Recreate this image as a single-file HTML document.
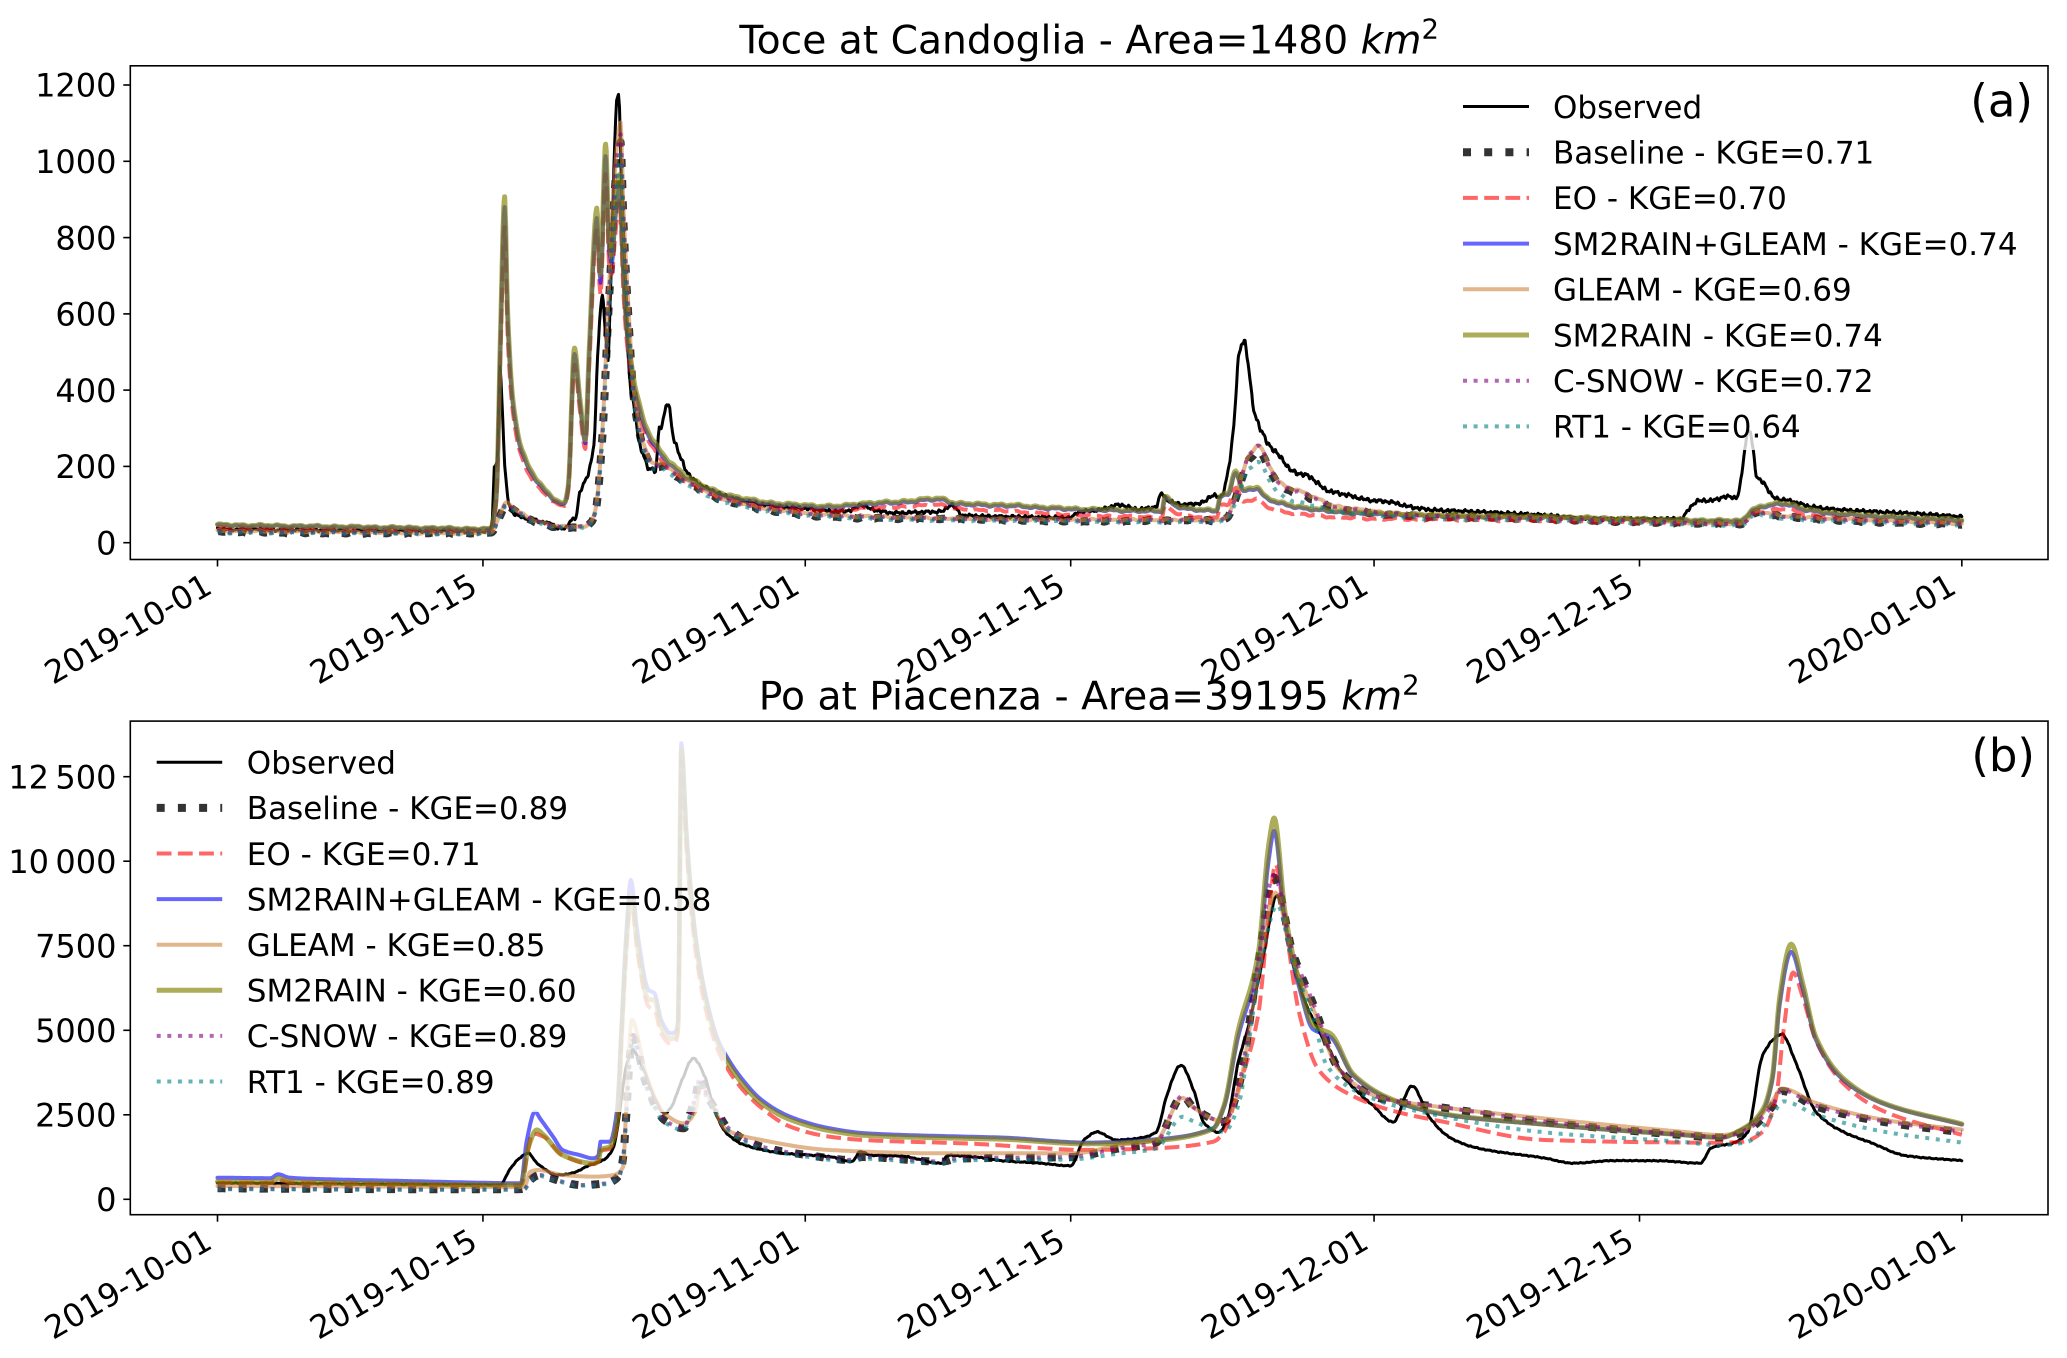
<!DOCTYPE html>
<html><head><meta charset="utf-8">
<style>
html,body{margin:0;padding:0;background:#fff;}
svg{display:block;}
text{font-family:"DejaVu Sans","Liberation Sans",sans-serif;fill:#000;}
.tk{font-size:32px;}
.lg{font-size:31px;}
.ti{font-size:39.2px;}
</style></head><body>
<svg id="s" width="2067" height="1358" viewBox="0 0 2067 1358" xmlns="http://www.w3.org/2000/svg">
<defs>
<clipPath id="ca"><rect x="130.3" y="65.8" width="1917.7" height="493.7"/></clipPath>
<clipPath id="cb"><rect x="130.3" y="721.1" width="1917.7" height="493.6"/></clipPath>
</defs>
<rect x="0" y="0" width="2067" height="1358" fill="#fff"/>
<g id="la" clip-path="url(#ca)"></g>
<g id="lb" clip-path="url(#cb)"></g>

<!-- Titles -->
<text class="ti" x="1089.2" y="53.3" text-anchor="middle">Toce at Candoglia - Area=1480 <tspan font-style="italic">km</tspan><tspan dy="-15" font-size="27.5">2</tspan></text>
<text class="ti" x="1089.2" y="709.7" text-anchor="middle">Po at Piacenza - Area=39195 <tspan font-style="italic">km</tspan><tspan dy="-15" font-size="27.5">2</tspan></text>

<!-- Legend A -->
<rect x="1444" y="75" width="588" height="375" fill="#fff" fill-opacity="0.8"/>
<g id="lega"></g>
<g class="lg">
<text x="1553" y="117.8">Observed</text>
<text x="1553" y="163.5">Baseline - KGE=0.71</text>
<text x="1553" y="209.2">EO - KGE=0.70</text>
<text x="1553" y="254.9">SM2RAIN+GLEAM - KGE=0.74</text>
<text x="1553" y="300.6">GLEAM - KGE=0.69</text>
<text x="1553" y="346.3">SM2RAIN - KGE=0.74</text>
<text x="1553" y="392.0">C-SNOW - KGE=0.72</text>
<text x="1553" y="437.7">RT1 - KGE=0.64</text>
</g>
<text x="2033" y="116.6" text-anchor="end" font-size="45">(a)</text>

<!-- Legend B -->
<rect x="140" y="731" width="586" height="381" fill="#fff" fill-opacity="0.8"/>
<g id="legb"></g>
<g class="lg">
<text x="246.8" y="773.6">Observed</text>
<text x="246.8" y="819.2">Baseline - KGE=0.89</text>
<text x="246.8" y="864.8">EO - KGE=0.71</text>
<text x="246.8" y="910.4">SM2RAIN+GLEAM - KGE=0.58</text>
<text x="246.8" y="956.0">GLEAM - KGE=0.85</text>
<text x="246.8" y="1001.6">SM2RAIN - KGE=0.60</text>
<text x="246.8" y="1047.2">C-SNOW - KGE=0.89</text>
<text x="246.8" y="1092.8">RT1 - KGE=0.89</text>
</g>
<text x="2035" y="770.8" text-anchor="end" font-size="45">(b)</text>

<!-- Axes frames -->
<rect x="130.3" y="65.8" width="1917.7" height="493.7" fill="none" stroke="#000" stroke-width="1.6"/>
<rect x="130.3" y="721.1" width="1917.7" height="493.6" fill="none" stroke="#000" stroke-width="1.6"/>

<!-- Y ticks -->
<g stroke="#000" stroke-width="1.6">
<line x1="123.3" x2="130.3" y1="542.7" y2="542.7"/>
<line x1="123.3" x2="130.3" y1="466.4" y2="466.4"/>
<line x1="123.3" x2="130.3" y1="390.1" y2="390.1"/>
<line x1="123.3" x2="130.3" y1="313.9" y2="313.9"/>
<line x1="123.3" x2="130.3" y1="237.6" y2="237.6"/>
<line x1="123.3" x2="130.3" y1="161.3" y2="161.3"/>
<line x1="123.3" x2="130.3" y1="85.0" y2="85.0"/>
<line x1="123.3" x2="130.3" y1="1199.3" y2="1199.3"/>
<line x1="123.3" x2="130.3" y1="1114.8" y2="1114.8"/>
<line x1="123.3" x2="130.3" y1="1030.3" y2="1030.3"/>
<line x1="123.3" x2="130.3" y1="945.7" y2="945.7"/>
<line x1="123.3" x2="130.3" y1="861.2" y2="861.2"/>
<line x1="123.3" x2="130.3" y1="776.7" y2="776.7"/>
</g>
<g class="tk" text-anchor="end">
<text x="116.5" y="554.4">0</text>
<text x="116.5" y="478.1">200</text>
<text x="116.5" y="401.8">400</text>
<text x="116.5" y="325.6">600</text>
<text x="116.5" y="249.3">800</text>
<text x="116.5" y="173.0">1000</text>
<text x="116.5" y="96.7">1200</text>
<text x="116.5" y="1211.0">0</text>
<text x="116.5" y="1126.5">2500</text>
<text x="116.5" y="1042.0">5000</text>
<text x="116.5" y="957.4">7500</text>
<text x="116.5" y="872.9">10&#8201;000</text>
<text x="116.5" y="788.4">12&#8201;500</text>
</g>

<!-- X ticks -->
<g id="xt" stroke="#000" stroke-width="1.6"></g>
<g class="tk" text-anchor="end">
<text transform="translate(214,592) rotate(-30)">2019-10-01</text>
<text transform="translate(479.4,592) rotate(-30)">2019-10-15</text>
<text transform="translate(801.8,592) rotate(-30)">2019-11-01</text>
<text transform="translate(1067.2,592) rotate(-30)">2019-11-15</text>
<text transform="translate(1370.6,592) rotate(-30)">2019-12-01</text>
<text transform="translate(1636,592) rotate(-30)">2019-12-15</text>
<text transform="translate(1958.3,592) rotate(-30)">2020-01-01</text>
<text transform="translate(214,1247.2) rotate(-30)">2019-10-01</text>
<text transform="translate(479.4,1247.2) rotate(-30)">2019-10-15</text>
<text transform="translate(801.8,1247.2) rotate(-30)">2019-11-01</text>
<text transform="translate(1067.2,1247.2) rotate(-30)">2019-11-15</text>
<text transform="translate(1370.6,1247.2) rotate(-30)">2019-12-01</text>
<text transform="translate(1636,1247.2) rotate(-30)">2019-12-15</text>
<text transform="translate(1958.3,1247.2) rotate(-30)">2020-01-01</text>
</g>
</svg>
<script>
(function(){
var NS='http://www.w3.org/2000/svg';
function X(d){return 217.5+18.96*d;}
function YA(v){return 542.7-v*0.3814;}
function YB(v){return 1199.3-v*0.03381;}
function mono(kp){
  var n=kp.length,xs=[],ys=[],dx=[],m=[],t=[],i;
  for(i=0;i<n;i++){xs.push(kp[i][0]);ys.push(kp[i][1]);}
  for(i=0;i<n-1;i++){dx.push(xs[i+1]-xs[i]);m.push((ys[i+1]-ys[i])/dx[i]);}
  t.push(m[0]);
  for(i=1;i<n-1;i++){
    if(m[i-1]*m[i]<=0)t.push(0);
    else{var w1=2*dx[i]+dx[i-1],w2=dx[i]+2*dx[i-1];t.push((w1+w2)/(w1/m[i-1]+w2/m[i]));}
  }
  t.push(m[n-2]);
  var f=function(x){
    if(x<=xs[0])return ys[0];
    if(x>=xs[n-1])return ys[n-1];
    var lo=0,hi=n-1;
    while(hi-lo>1){var mid=(lo+hi)>>1;if(xs[mid]<=x)lo=mid;else hi=mid;}
    var h=dx[lo],s=(x-xs[lo])/h,s2=s*s,s3=s2*s;
    return (2*s3-3*s2+1)*ys[lo]+(s3-2*s2+s)*h*t[lo]+(-2*s3+3*s2)*ys[lo+1]+(s3-s2)*h*t[lo+1];
  };
  f.knots=xs;
  return f;
}
function lin(kp){
  return function(x){
    if(x<=kp[0][0])return kp[0][1];
    for(var i=1;i<kp.length;i++){if(x<=kp[i][0]){var a=kp[i-1],b=kp[i];var q=(x-a[0])/(b[0]-a[0]);return a[1]+q*(b[1]-a[1]);}}
    return kp[kp.length-1][1];
  };
}
function nz(d,s){
  return 0.5*Math.sin(6.2832*d*1.0+s)+0.3*Math.sin(6.2832*d*2.3+2.1*s)+0.2*Math.sin(6.2832*d*0.43+3.7*s);
}
function nz2(d,s){
  return 0.45*Math.sin(6.2832*d*3.1+s)+0.35*Math.sin(6.2832*d*5.7+1.7*s)+0.2*Math.sin(6.2832*d*1.3+2.9*s);
}
function draw(g,fn,knots,Y,st,amp,seed,hf){
  var ds=[],d,i;
  for(d=0;d<=92.0001;d+=0.05)ds.push(Math.round(d*100)/100);
  if(knots)for(i=0;i<knots.length;i++)ds.push(knots[i]);
  ds.sort(function(a,b){return a-b;});
  var p='',prev=-1;
  for(i=0;i<ds.length;i++){
    d=ds[i]; if(d<0||d>92||Math.abs(d-prev)<1e-6)continue; prev=d;
    var v=fn(d);
    if(amp){var a=amp(v,d);v+=a*(hf?nz2(d,seed):nz(d,seed));}
    p+=(p?'L':'M')+X(d).toFixed(1)+','+Y(v).toFixed(1);
  }
  var e=document.createElementNS(NS,'path');
  e.setAttribute('d',p);
  e.setAttribute('fill','none');
  e.setAttribute('stroke',st.c);
  e.setAttribute('stroke-width',st.w);
  e.setAttribute('stroke-opacity',st.o);
  e.setAttribute('stroke-linejoin','round');
  if(st.dash){e.setAttribute('stroke-dasharray',st.dash);e.setAttribute('stroke-linecap','butt');}
  else e.setAttribute('stroke-linecap','round');
  g.appendChild(e);
}
function scaled(base,fk){var f=lin(fk);var r=function(d){return base(d)*f(d);};r.knots=base.knots;return r;}

var ST={
 obs:{c:'#000',w:3,o:1},
 bas:{c:'#000',w:8,o:0.8,dash:'8 13.2'},
 eo:{c:'#ff0000',w:4,o:0.6,dash:'14.8 6.4'},
 sg:{c:'#0000ff',w:4,o:0.6},
 gl:{c:'#cd853f',w:4,o:0.6},
 sm:{c:'#808000',w:5,o:0.65},
 cs:{c:'#800080',w:4,o:0.6,dash:'4 6.6'},
 rt:{c:'#008080',w:4,o:0.6,dash:'4 6.6'}
};

/* ---------- Panel A ---------- */
var OBS_A=mono([[0,36],[1,34],[2,35],[3,33],[4,34],[5,32],[6,33],[7,31],[8,32],[9,30],[10,31],[11,30],[12,31],[13,29],[14.3,30],[14.5,60],[14.6,200],[14.75,215],[14.9,455],[15.0,380],[15.15,200],[15.4,98],[15.6,78],[16.0,68],[16.8,58],[17.5,50],[18.2,36],[18.4,40],[18.6,58],[18.9,65],[19.1,128],[19.6,189],[19.85,259],[20.08,520],[20.27,645],[20.45,560],[20.6,478],[20.75,700],[20.95,1050],[21.14,1192],[21.3,950],[21.5,720],[21.73,440],[22.07,322],[22.3,250],[22.5,230],[22.7,195],[23.1,190],[23.3,300],[23.45,310],[23.75,367],[24.05,278],[24.44,221],[24.95,173],[26.0,138],[27.5,112],[29.7,94],[31,90],[32.7,82],[33.5,86],[33.9,99],[34.5,88],[35.7,78],[37,80],[38.2,82],[38.7,99],[39.3,72],[42,68],[45,66],[45.4,80],[46.5,86],[47.6,99],[48.5,88],[49.5,95],[49.8,129],[50.1,112],[51,100],[52,106],[52.5,125],[52.9,118],[53.2,164],[53.6,304],[53.84,479],[54.1,531],[54.4,453],[54.6,365],[55.2,278],[55.7,243],[56.2,217],[56.6,190],[57.6,173],[58.5,138],[59.6,125],[60.7,112],[61.8,107],[62.9,94],[64.1,86],[66,82],[70,72],[72.9,62],[77.2,63],[77.6,88],[78.07,109],[79,112],[79.5,121],[80.1,118],[80.3,149],[80.6,259],[80.8,299],[81.0,240],[81.2,169],[81.5,160],[82.1,118],[83.0,109],[84,95],[86,85],[88,80],[90,75],[92,68]]);
var OLV_A=mono([[0,47],[4,44],[8,41],[12,38],[14.4,36],[14.7,120],[14.95,600],[15.14,906],[15.3,600],[15.6,369],[16.08,239],[16.8,169],[17.5,128],[18.3,103],[18.5,150],[18.83,510],[19.1,380],[19.4,269],[19.6,500],[20.0,877],[20.2,700],[20.47,1043],[20.65,800],[20.8,760],[21.0,880],[21.2,960],[21.4,720],[21.6,566],[22.1,392],[22.7,295],[23.6,225],[25.1,164],[26.6,130],[29.6,103],[32.7,96],[33.9,103],[35.7,107],[38.1,116],[39,104],[41.7,99],[44.8,90],[47.8,86],[49.8,84],[49.97,121],[50.5,100],[51.5,88],[52.7,86],[52.9,125],[53.3,128],[53.7,190],[54.1,138],[54.8,147],[55.3,120],[57.1,94],[60.7,77],[64.8,72],[70,68],[75,62],[80.3,58],[81.0,88],[82.7,104],[83.7,88],[86,75],[92,60]]);
var BAS_A=mono([[0,28],[3,27],[6,26],[9,25],[12,24],[14.4,25],[14.8,60],[15.25,99],[15.8,80],[16.5,60],[17.5,46],[18.2,40],[19.3,40],[19.7,55],[19.96,88],[20.3,279],[20.65,640],[21.1,1001],[21.26,1042],[21.4,850],[21.6,660],[21.96,379],[22.4,259],[23.1,194],[23.5,200],[24,180],[25,150],[26.6,112],[29.6,81],[32.7,68],[35.7,64],[41.7,59],[47,57],[52.96,58],[53.2,62],[53.9,147],[54.4,217],[54.9,243],[55.4,199],[56.1,147],[57.1,129],[57.9,112],[58.8,94],[60.7,80],[64,68],[70,62],[75,55],[80.3,48],[81.2,78],[82.5,68],[85,60],[92,48]]);
var BLU_A=scaled(OLV_A,[[0,0.97],[92,0.97]]);
var RED_A=scaled(OLV_A,[[0,0.85],[14,0.9],[21.5,0.93],[26,0.9],[40,0.85],[53,0.77],[60,0.82],[70,0.85],[92,0.85]]);
var TAN_A=scaled(BAS_A,[[0,1.1],[14,1.05],[52,1.05],[92,1.05]]);
var PUR_A=scaled(BAS_A,[[0,1.02],[53,1.02],[54.5,1.06],[56,1.02],[92,1.02]]);
var TEA_A=scaled(BAS_A,[[0,0.96],[21,0.96],[21.3,0.97],[53,0.96],[54.9,0.87],[57,0.82],[60,0.92],[92,0.96]]);

var ga=document.getElementById('la');
function ampA(v){return 2.5+0.01*v;}
function ampObsA(v){return 4+0.02*v;}
draw(ga,OBS_A,OBS_A.knots,YA,ST.obs,ampObsA,1.3,true);
draw(ga,BAS_A,BAS_A.knots,YA,ST.bas,ampA,0.4);
draw(ga,RED_A,OLV_A.knots,YA,ST.eo,ampA,0.9);
draw(ga,BLU_A,OLV_A.knots,YA,ST.sg,ampA,0.2);
draw(ga,TAN_A,BAS_A.knots,YA,ST.gl,ampA,0.6);
draw(ga,OLV_A,OLV_A.knots,YA,ST.sm,ampA,0.2);
draw(ga,PUR_A,BAS_A.knots,YA,ST.cs,ampA,0.5);
draw(ga,TEA_A,BAS_A.knots,YA,ST.rt,ampA,0.7);

/* ---------- Panel B ---------- */
var OBS_B=mono([[0,480],[3,470],[6,455],[9,440],[12,430],[14.9,423],[15.4,867],[16.0,1250],[16.4,1360],[16.8,1100],[17.2,917],[17.9,719],[18.6,760],[19.65,1014],[20.35,1162],[20.9,1556],[21.1,2147],[21.56,3922],[21.9,4416],[22.4,3922],[23.1,2937],[23.57,2543],[23.9,2700],[24.5,3528],[25.1,4170],[25.7,3626],[26.27,2543],[26.86,1952],[27.8,1606],[29.9,1360],[32.3,1260],[33.45,1112],[33.9,1408],[34.5,1300],[36,1280],[38.2,1065],[38.5,1300],[40,1250],[41.3,1145],[43.4,1068],[45.0,991],[45.7,1754],[46.4,1990],[47.4,1754],[48.5,1800],[49.5,1981],[50.06,3049],[50.8,3963],[51.5,3203],[52.0,2286],[52.8,1981],[53.3,2440],[53.8,3963],[54.4,5185],[55.1,7013],[55.9,8991],[56.7,7013],[57.4,5791],[58.5,4573],[59.6,3505],[61.0,2745],[62.0,2286],[63.0,3354],[63.9,2440],[65.0,1828],[66.4,1523],[70.0,1219],[71.5,1068],[73.6,1144],[76,1140],[78.2,1068],[78.8,1523],[80.0,1675],[80.7,1981],[81.5,4268],[82.5,4877],[83.3,3963],[84.3,2591],[85.8,1981],[87.2,1677],[89.0,1295],[92,1144]]);
var BLU_B=mono([[0,640],[2.8,625],[3.2,739],[3.8,640],[6,590],[10,540],[14.9,480],[16.0,473],[16.3,1700],[16.75,2591],[17.0,2400],[17.7,1852],[18.2,1458],[19.1,1310],[19.8,1212],[20.1,1300],[20.2,1704],[20.7,1704],[21.05,2543],[21.3,5000],[21.56,7868],[21.8,9444],[22.15,7868],[22.74,6190],[23.05,6093],[23.4,5303],[23.9,4910],[24.15,4950],[24.3,5303],[24.46,13487],[24.74,10825],[25.2,7868],[25.8,5895],[26.4,4712],[26.86,4218],[27.57,3626],[28.7,2937],[30.2,2443],[32.3,2099],[34.2,1952],[39.6,1852],[41.3,1828],[45.9,1677],[49,1754],[52.5,2100],[53.1,2745],[53.8,4726],[54.9,7013],[55.45,10059],[55.73,10900],[56.3,8231],[57.06,6250],[57.78,5031],[58.3,4900],[58.7,4800],[59.9,3659],[62.1,2896],[64.6,2514],[70.0,2209],[77.2,1905],[79.3,1828],[80.4,2059],[81.5,2591],[82.0,3500],[82.4,5791],[83.0,7317],[83.6,6250],[84.3,4726],[85.8,3505],[87.9,2819],[92,2209]]);
var OLV_B=mono([[0,520],[2.8,510],[3.2,620],[3.8,530],[6,490],[10,460],[14.9,430],[16.0,430],[16.4,1556],[16.84,2050],[17.2,1900],[18.2,1310],[19.8,1065],[20.1,1150],[20.2,1458],[20.7,1556],[21.1,2400],[21.3,4800],[21.56,7500],[21.8,9000],[22.15,7500],[22.74,5900],[23.05,5900],[23.4,5100],[23.9,4750],[24.15,4800],[24.3,5200],[24.46,13300],[24.74,10600],[25.2,7700],[25.8,5750],[26.4,4600],[26.86,4100],[27.57,3500],[28.7,2840],[30.2,2360],[32.3,2030],[34.2,1890],[39.6,1800],[41.3,1780],[45.9,1640],[49,1720],[52.5,2080],[53.1,2800],[53.8,4900],[54.9,7300],[55.45,10500],[55.73,11278],[56.3,8500],[57.06,6400],[57.78,5150],[58.3,5000],[58.7,4900],[59.9,3700],[62.1,2920],[64.6,2530],[70.0,2220],[77.2,1910],[79.3,1830],[80.4,2070],[81.5,2650],[82.0,3600],[82.4,6000],[83.0,7545],[83.6,6400],[84.3,4800],[85.8,3550],[87.9,2840],[92,2230]]);
var RED_B=mono([[0,495],[2.8,485],[3.2,580],[3.8,500],[6,470],[10,440],[14.9,415],[16.0,415],[16.4,1500],[16.6,1950],[17.2,1850],[18.2,1300],[19.8,1040],[20.1,1120],[20.2,1420],[20.7,1500],[21.1,2300],[21.3,4600],[21.56,7300],[21.8,8900],[22.15,7300],[22.74,5700],[23.05,5600],[23.4,4900],[23.9,4600],[24.15,4650],[24.3,5000],[24.46,13000],[24.74,10300],[25.2,7400],[25.8,5500],[26.4,4400],[26.86,3900],[27.57,3330],[28.7,2700],[30.2,2150],[32.3,1850],[34.2,1750],[39.6,1650],[45.9,1460],[49,1500],[52.5,1700],[53.1,2000],[53.8,3200],[54.9,5500],[55.45,8500],[55.8,9908],[56.3,8200],[57.06,5486],[58.1,3810],[59.9,3049],[62.1,2600],[64.6,2300],[70,1754],[79.3,1675],[80.4,1700],[81.5,2000],[82.2,3000],[82.6,5000],[83.1,6708],[83.6,6000],[84.3,4700],[85.8,3400],[87.9,2600],[92,1905]]);
var BAS_B=mono([[0,325],[5,310],[10,300],[15.9,300],[16.2,320],[16.5,571],[17.0,719],[17.5,640],[18.2,521],[19.1,423],[20.5,473],[21.2,719],[21.4,1260],[21.56,2493],[21.75,4200],[21.9,4800],[22.6,3430],[23.57,2345],[24.6,2099],[24.9,2500],[25.2,3000],[25.45,3600],[25.8,3100],[26.4,2543],[26.86,2147],[28.7,1556],[31.1,1310],[33.45,1162],[34,1250],[38.2,1113],[39,1200],[45,1250],[47.5,1500],[49.5,1677],[50.9,3049],[51.5,2700],[53.1,2286],[53.8,3203],[54.9,7013],[55.7,9527],[56.7,7317],[57.78,5791],[59.2,3810],[61.4,2973],[64.2,2745],[70,2286],[77.2,1905],[79.3,1828],[80.7,2059],[82.0,2745],[82.5,3203],[84.3,2745],[87.9,2286],[92,1981]]);
var TAN_B=mono([[0,393],[5,385],[10,375],[15.9,360],[16.2,380],[16.5,817],[16.9,867],[18.2,719],[19.9,670],[20.9,719],[21.4,964],[21.56,2800],[21.85,5303],[22.6,3700],[23.57,2543],[24.6,2248],[25.2,2600],[25.5,3400],[26.0,2900],[26.86,2050],[28.7,1754],[32.3,1458],[38.2,1360],[45.2,1360],[47.5,1600],[49.5,1750],[50.9,3000],[51.5,2700],[53.1,2300],[53.8,3100],[54.9,6700],[55.8,9068],[56.7,7100],[57.78,5650],[59.2,3800],[61.4,3000],[64.2,2750],[70,2390],[77.2,2000],[79.3,1900],[80.7,2100],[82.0,2900],[82.5,3277],[84.3,2850],[87.9,2350],[92,2059]]);
var TEA_B=mono([[0,300],[5,290],[10,280],[15.9,280],[16.2,300],[16.5,540],[17.0,690],[17.5,610],[18.2,500],[19.1,405],[20.5,450],[21.2,690],[21.4,1200],[21.56,2400],[21.75,4100],[21.9,4650],[22.6,3330],[23.57,2280],[24.6,2050],[24.9,2450],[25.2,2950],[25.45,3500],[25.8,3000],[26.4,2460],[26.86,2080],[28.7,1500],[31.1,1260],[33.45,1120],[34,1200],[38.2,1070],[39,1150],[45,1180],[47.5,1350],[49.5,1500],[50.9,2440],[51.5,2300],[53.1,2000],[53.8,2700],[54.9,6500],[55.9,8700],[56.7,7000],[57.78,5400],[58.5,3963],[60.6,3054],[64.2,2500],[70,1981],[77.2,1700],[79.3,1600],[80.7,1700],[82.0,2500],[82.6,2896],[84.3,2500],[87.9,2000],[92,1677]]);
var PUR_B=scaled(BAS_B,[[0,0.97],[16,0.97],[17,1.0],[92,1.01]]);

var gb=document.getElementById('lb');
function ampObsB(v){return 12+0.004*v;}
draw(gb,OBS_B,OBS_B.knots,YB,ST.obs,ampObsB,2.1,true);
draw(gb,BAS_B,BAS_B.knots,YB,ST.bas,null,0);
draw(gb,RED_B,RED_B.knots,YB,ST.eo,null,0);
draw(gb,BLU_B,BLU_B.knots,YB,ST.sg,null,0);
draw(gb,TAN_B,TAN_B.knots,YB,ST.gl,null,0);
draw(gb,OLV_B,OLV_B.knots,YB,ST.sm,null,0);
draw(gb,PUR_B,BAS_B.knots,YB,ST.cs,null,0);
draw(gb,TEA_B,TEA_B.knots,YB,ST.rt,null,0);

/* ---------- Legend handles ---------- */
function hline(g,x1,x2,y,st){
  var e=document.createElementNS(NS,'line');
  e.setAttribute('x1',x1);e.setAttribute('x2',x2);e.setAttribute('y1',y);e.setAttribute('y2',y);
  e.setAttribute('stroke',st.c);e.setAttribute('stroke-width',st.w);e.setAttribute('stroke-opacity',st.o);
  if(st.dash){e.setAttribute('stroke-dasharray',st.dash);}
  e.setAttribute('stroke-linecap','butt');
  g.appendChild(e);
}
var order=['obs','bas','eo','sg','gl','sm','cs','rt'];
var lga=document.getElementById('lega'),lgb=document.getElementById('legb');
for(var k=0;k<8;k++){
  hline(lga,1463,1529,106.5+45.7*k,ST[order[k]]);
  hline(lgb,156.7,222.2,762.3+45.6*k,ST[order[k]]);
}

/* ---------- X tick marks ---------- */
var xt=document.getElementById('xt');
var td=[0,14,31,45,61,75,92];
for(var j=0;j<td.length;j++){
  var xx=X(td[j]);
  [[559.5,566.5],[1214.7,1221.7]].forEach(function(yy){
    var l=document.createElementNS(NS,'line');
    l.setAttribute('x1',xx);l.setAttribute('x2',xx);l.setAttribute('y1',yy[0]);l.setAttribute('y2',yy[1]);
    xt.appendChild(l);
  });
}
})();
</script>
</body></html>
